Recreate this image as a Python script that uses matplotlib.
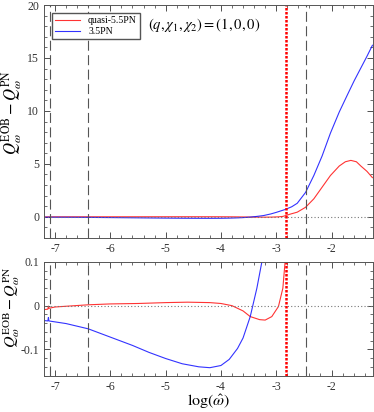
import matplotlib
matplotlib.use("Agg")
import matplotlib.pyplot as plt
from matplotlib.ticker import MultipleLocator

plt.rcParams["font.family"] = ["Liberation Serif", "DejaVu Serif"]
plt.rcParams["mathtext.fontset"] = "stix"

# log(omega_hat) samples and Q differences
x_55 = [-7.2, -7.13, -7.12, -7.11, -7.0, -6.4, -6.0, -5.5, -5.0, -4.6, -4.2, -4.0,
        -3.8, -3.6, -3.47, -3.3, -3.2, -3.08, -2.96, -2.88, -2.84, -2.75, -2.62,
        -2.47, -2.32, -2.17, -2.02, -1.86, -1.75, -1.65, -1.55, -1.47, -1.36, -1.26]
q_55 = [-0.009, -0.008, -0.001, -0.006, -0.003, 0.002, 0.004, 0.005, 0.007, 0.008,
        0.007, 0.005, 0.0, -0.012, -0.025, -0.032, -0.033, -0.025, -0.002, 0.04,
        0.1, 0.25, 0.44, 0.9, 1.7, 2.8, 3.9, 4.8, 5.2, 5.33, 5.2, 4.8, 4.3, 3.7]

x_35 = [-7.2, -7.13, -7.12, -7.11, -6.8, -6.4, -6.0, -5.6, -5.3, -5.0, -4.7, -4.4,
        -4.2, -4.0, -3.85, -3.7, -3.6, -3.47, -3.35, -3.23, -3.1, -3.0, -2.84,
        -2.72, -2.62, -2.47, -2.32, -2.17, -2.02, -1.86, -1.71, -1.59, -1.47,
        -1.36, -1.26]
q_35 = [-0.034, -0.035, -0.027, -0.035, -0.041, -0.053, -0.072, -0.091, -0.107,
        -0.121, -0.133, -0.140, -0.142, -0.137, -0.123, -0.098, -0.074, -0.025,
        0.04, 0.12, 0.27, 0.42, 0.69, 0.95, 1.28, 2.3, 3.9, 5.75, 7.9, 9.9,
        11.55, 12.85, 14.05, 15.15, 16.2]

dashed_x = [-7.1, -6.4, -2.47]
merger_x = -2.82

xticks = [-7, -6, -5, -4, -3, -2]
xtick_labels = ["-7", "-6", "-5", "-4", "-3", "-2"]
top_yticks = [0, 5, 10, 15, 20]
bot_yticks = [-0.1, 0, 0.1]
bot_ytick_labels = ["-0.1", "0", "0.1"]

fig = plt.figure(figsize=(3.74, 4.12), dpi=100)
ax_top = fig.add_axes([0.1176, 0.4223, 0.8797, 0.5655])
ax_bot = fig.add_axes([0.1176, 0.0874, 0.8797, 0.2767])

ylabel = r"$Q_\omega^{\rm EOB} - Q_\omega^{\rm PN}$"
for ax in (ax_top, ax_bot):
    ax.plot(x_55, q_55, color="red", lw=0.8, alpha=0.8, label="quasi-5.5PN")
    ax.plot(x_35, q_35, color="blue", lw=0.8, alpha=0.8, label="3.5PN")
    ax.axhline(0, color="#777777", lw=0.8, ls=(0, (1, 2)))
    for xv in dashed_x:
        ax.axvline(xv, color="#555555", lw=0.8, ls=(0, (9, 4)))
    ax.axvline(merger_x, color="red", lw=1.8, ls=(0, (1, 0.6)))
    ax.set_xlim(-7.2, -1.25)
    ax.set_xticks(xticks, xtick_labels)
    ax.xaxis.set_minor_locator(MultipleLocator(0.2))
    ax.tick_params(which="both", direction="in", top=True, right=True,
                   labelsize=8.5, colors="#333333")
    ax.tick_params(which="major", length=4, width=0.6)
    ax.tick_params(which="minor", length=2, width=0.5)
    for spine in ax.spines.values():
        spine.set_color("#555555")
        spine.set_linewidth(0.7)

ax_top.set_ylabel(ylabel, fontsize=12)
ax_bot.set_ylabel(ylabel, fontsize=11.5)
ax_top.yaxis.set_label_coords(-0.062, 0.54)
ax_bot.yaxis.set_label_coords(-0.068, 0.6)

ax_top.set_ylim(-2, 20)
ax_top.set_yticks(top_yticks, [str(t) for t in top_yticks])
ax_top.yaxis.set_minor_locator(MultipleLocator(1))
ax_top.legend(loc="upper left", fontsize=7, fancybox=False, edgecolor="#555555",
              framealpha=1, handlelength=2.6, borderpad=0.3, labelspacing=0.2,
              bbox_to_anchor=(0.01, 0.985))
ax_top.text(0.315, 0.915, r"$(q,\chi_1,\chi_2)=(1,0,0)$", transform=ax_top.transAxes,
            fontsize=10.5, va="center", ha="left")

ax_bot.set_ylim(-0.161, 0.1)
ax_bot.set_yticks(bot_yticks, bot_ytick_labels)
ax_bot.yaxis.set_minor_locator(MultipleLocator(0.02))
ax_bot.set_xlabel(r"$\log(\hat{\omega})$", fontsize=11.5, labelpad=0)

fig.savefig("out.png", dpi=100)
plt.close(fig)
